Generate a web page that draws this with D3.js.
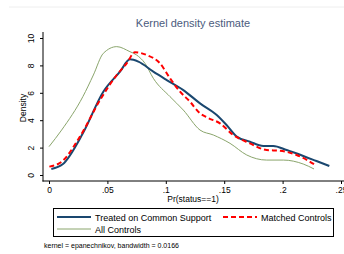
<!DOCTYPE html>
<html>
<head>
<meta charset="utf-8">
<script src="https://cdn.jsdelivr.net/npm/d3@7"></script>
<style>
  body { margin: 0; background: #fff; }
  svg { font-family: "Liberation Sans", Arial, sans-serif; }
</style>
</head>
<body>
<svg width="344" height="254"></svg>
<script>
// density curves: [pr, density]
let treated = [[0.002,0.44],[0.0117,0.78],[0.029,3.04],[0.0465,6.08],[0.0608,7.54],[0.0693,8.44],
  [0.0765,8.27],[0.0893,7.54],[0.1008,6.93],[0.115,6.2],[0.1293,5.23],[0.1436,4.38],[0.152,3.65],
  [0.1607,2.8],[0.172,2.43],[0.1835,2.12],[0.192,2.12],[0.2035,1.82],[0.2177,1.39],[0.229,1.02],[0.24,0.66]]
let matched = [[0.0003,0.61],[0.0108,0.97],[0.0265,2.8],[0.0437,5.47],[0.058,7.3],[0.0665,8.15],
  [0.0736,8.96],[0.0836,8.76],[0.095,8.15],[0.1036,7.06],[0.1122,6.08],[0.1207,5.35],[0.1293,4.5],
  [0.135,4.21],[0.1464,3.77],[0.1578,2.92],[0.172,2.31],[0.1863,1.82],[0.1978,1.77],[0.212,1.46],[0.228,0.73]]
let allControls = [[0,2.07],[0.0108,3.28],[0.029,5.72],[0.038,7.3],[0.0465,8.88],[0.058,9.37],
  [0.0693,9.0],[0.075,8.76],[0.0822,8.15],[0.0893,7.06],[0.1036,5.72],[0.115,4.74],[0.1293,3.28],
  [0.1407,2.92],[0.155,2.31],[0.1693,1.46],[0.1863,1.09],[0.2006,1.09],[0.2177,0.8],[0.2269,0.44]]

let xTicks = [0, 0.05, 0.1, 0.15, 0.2, 0.25]
let xTickLabels = ["0", ".05", ".1", ".15", ".2", ".25"]
let yTicks = [0, 2, 4, 6, 8, 10]

let series = [
  {name: "Treated on Common Support", data: treated, color: "#1a476f", width: 2, dash: null},
  {name: "Matched Controls", data: matched, color: "#ff0000", width: 2, dash: "5,3"},
  {name: "All Controls", data: allControls, color: "#8aa56c", width: 1, dash: null}
]

let svg = d3.select("svg")

// faint line at the top
svg.append("line")
  .attr("x1", 9).attr("x2", 344).attr("y1", 7).attr("y2", 7)
  .attr("stroke", "#eeeeee").attr("stroke-width", 1)

let x = d3.scaleLinear().domain([0, 0.25]).range([49, 341])
let y = d3.scaleLinear().domain([0, 10]).range([175, 38])

// title
svg.append("text")
  .attr("x", 193).attr("y", 27)
  .attr("text-anchor", "middle")
  .attr("font-size", 11)
  .attr("fill", "#4b5b7d")
  .text("Kernel density estimate")

// axes
let yAxis = svg.append("g")
  .attr("transform", "translate(43,0)")
  .call(d3.axisLeft(y).tickValues(yTicks).tickSize(3).tickSizeOuter(0).tickFormat(d3.format("d")))
yAxis.select(".domain").remove()
yAxis.selectAll("line").attr("stroke", "#000")
yAxis.selectAll("text")
  .attr("x", 0).attr("dy", 0)
  .attr("transform", "translate(-9,0) rotate(-90)")
  .attr("text-anchor", "middle")
  .attr("font-size", 8.5)
  .attr("font-family", "Liberation Sans, Arial, sans-serif")
  .attr("fill", "#000")

let xAxis = svg.append("g")
  .attr("transform", "translate(0,181)")
  .call(d3.axisBottom(x).tickValues(xTicks).tickSize(3).tickSizeOuter(0)
    .tickFormat((d, i) => xTickLabels[i]))
xAxis.select(".domain").remove()
xAxis.selectAll("line").attr("stroke", "#000")
xAxis.selectAll("text")
  .attr("y", 6).attr("dy", "0.71em")
  .attr("font-size", 8.5)
  .attr("font-family", "Liberation Sans, Arial, sans-serif")
  .attr("fill", "#000")

// axis lines
svg.append("line").attr("x1", 43).attr("x2", 43).attr("y1", 32).attr("y2", 181.5)
  .attr("stroke", "#000").attr("stroke-width", 1)
svg.append("line").attr("x1", 42.5).attr("x2", 344).attr("y1", 181).attr("y2", 181)
  .attr("stroke", "#000").attr("stroke-width", 1)

// axis titles
svg.append("text")
  .attr("x", 193).attr("y", 202)
  .attr("text-anchor", "middle")
  .attr("font-size", 8.5)
  .text("Pr(status==1)")
svg.append("text")
  .attr("transform", "translate(26,108) rotate(-90)")
  .attr("text-anchor", "middle")
  .attr("font-size", 8.5)
  .text("Density")

// curves
let line = d3.line()
  .x(d => x(d[0]))
  .y(d => y(d[1]))
  .curve(d3.curveMonotoneX)

// draw green first, then red, then blue
;[series[2], series[0], series[1]].forEach(s => {
  svg.append("path")
    .datum(s.data)
    .attr("d", line)
    .attr("fill", "none")
    .attr("stroke", s.color)
    .attr("stroke-width", s.width)
    .attr("stroke-dasharray", s.dash)
})

// legend
let legend = svg.append("g")
legend.append("rect")
  .attr("x", 53.5).attr("y", 208.5).attr("width", 280).attr("height", 28)
  .attr("fill", "#fff").attr("stroke", "#000").attr("stroke-width", 1)

let legendPos = [[57, 217], [223, 217], [57, 229]]
series.forEach((s, i) => {
  let p = legendPos[i]
  legend.append("line")
    .attr("x1", p[0]).attr("x2", p[0] + 34).attr("y1", p[1]).attr("y2", p[1])
    .attr("stroke", s.color).attr("stroke-width", s.width)
    .attr("stroke-dasharray", s.dash)
  legend.append("text")
    .attr("x", p[0] + 38).attr("y", p[1] + 3.5)
    .attr("font-size", 9)
    .attr("fill", "#000")
    .text(s.name)
})

// note
svg.append("text")
  .attr("x", 44).attr("y", 248)
  .attr("font-size", 7)
  .attr("fill", "#000")
  .text("kernel = epanechnikov, bandwidth = 0.0166")
</script>
</body>
</html>
